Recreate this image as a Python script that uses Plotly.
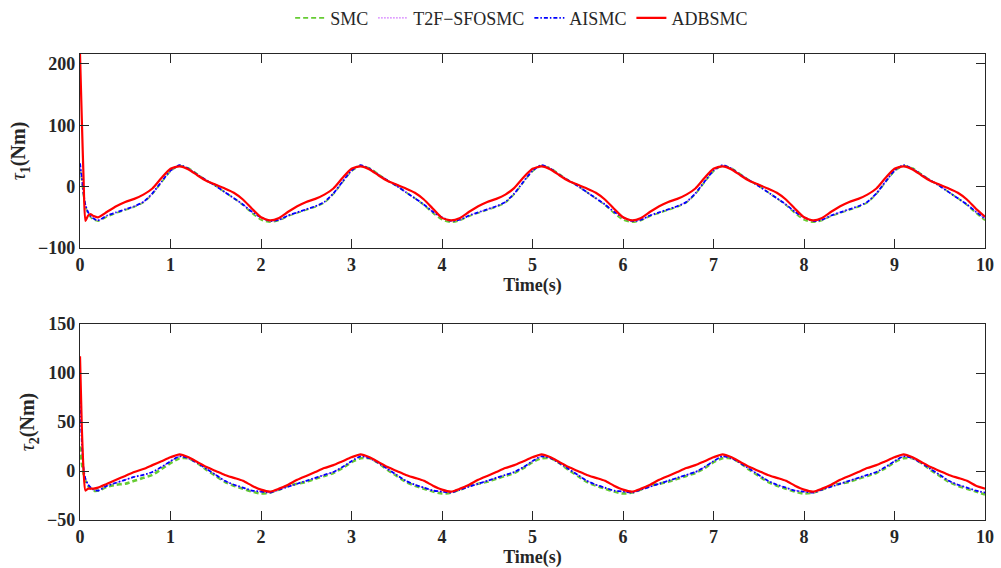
import plotly.graph_objects as go
from plotly.subplots import make_subplots

# time grid (s): dense start, then 0.1 s steps
time = [0, 0.02, 0.04, 0.06, 0.09, 0.12, 0.15] + [round(0.2 + 0.1 * i, 2) for i in range(99)]

# ---- tau1 (Nm) ----
tau1_smc = [30, 10, -15, -32, -44, -50, -54,
            -56, -49, -43, -38, -33, -26, -12, 7, 25, 34, 30, 20, 10, 1, -9, -19, -30, -43,
            -54, -58, -55, -48, -43, -38, -33, -26, -12, 7, 25, 34, 30, 20, 10, 1, -9, -19, -30, -43,
            -54, -58, -55, -48, -43, -38, -33, -26, -12, 7, 25, 34, 30, 20, 10, 1, -9, -19, -30, -43,
            -54, -58, -55, -48, -43, -38, -33, -26, -12, 7, 25, 34, 30, 20, 10, 1, -9, -19, -30, -43,
            -54, -58, -55, -48, -43, -38, -33, -26, -12, 7, 25, 34, 30, 20, 10, 1, -9, -19, -30, -43,
            -55]
tau1_t2f = [36, 14, -12, -30, -42, -48, -52,
            -55, -47, -42, -37, -32, -25, -11, 8, 26, 34, 29, 19, 10, 1, -9, -19, -29, -41,
            -51, -56, -54, -47, -42, -37, -32, -25, -11, 8, 26, 34, 29, 19, 10, 1, -9, -19, -29, -41,
            -51, -56, -54, -47, -42, -37, -32, -25, -11, 8, 26, 34, 29, 19, 10, 1, -9, -19, -29, -41,
            -51, -56, -54, -47, -42, -37, -32, -25, -11, 8, 26, 34, 29, 19, 10, 1, -9, -19, -29, -41,
            -51, -56, -54, -47, -42, -37, -32, -25, -11, 8, 26, 34, 29, 19, 10, 1, -9, -19, -29, -41,
            -52]
tau1_aismc = [38, 15, -12, -30, -42, -48, -52,
              -55, -47, -42, -37, -32, -25, -11, 8, 26, 35, 29, 19, 10, 1, -9, -19, -29, -41,
              -50, -56, -54, -47, -42, -37, -32, -25, -11, 8, 26, 35, 29, 19, 10, 1, -9, -19, -29, -41,
              -50, -56, -54, -47, -42, -37, -32, -25, -11, 8, 26, 35, 29, 19, 10, 1, -9, -19, -29, -41,
              -50, -56, -54, -47, -42, -37, -32, -25, -11, 8, 26, 35, 29, 19, 10, 1, -9, -19, -29, -41,
              -50, -56, -54, -47, -42, -37, -32, -25, -11, 8, 26, 35, 29, 19, 10, 1, -9, -19, -29, -41,
              -52]
tau1_adbsmc = [216, 110, 10, -56, -47, -45, -48,
               -50, -41, -32, -25, -20, -13, -3, 14, 29, 33, 28, 18, 9, 3, -3, -10, -21, -36,
               -50, -55, -51, -41, -32, -25, -20, -13, -3, 14, 29, 33, 28, 18, 9, 3, -3, -10, -21, -36,
               -51, -55, -51, -41, -32, -25, -20, -13, -2, 15, 29, 33, 28, 18, 9, 3, -3, -10, -21, -36,
               -50, -55, -51, -41, -32, -25, -20, -13, -3, 14, 29, 33, 28, 18, 9, 3, -3, -10, -21, -36,
               -50, -55, -51, -41, -32, -25, -20, -13, -3, 14, 29, 33, 28, 18, 9, 3, -3, -10, -21, -36,
               -49]

# ---- tau2 (Nm) ----
tau2_smc = [25, 8, -3, -10, -15, -18, -20,
            -20, -16, -14, -13, -10, -7, -4, 2, 8, 13, 13, 8, 1, -5, -11, -15, -18, -21,
            -23, -22, -19, -15, -13, -11, -8, -5, -2, 3, 9, 13, 13, 8, 1, -5, -11, -15, -18, -21,
            -23, -22, -19, -15, -13, -11, -8, -5, -2, 3, 9, 13, 13, 8, 1, -5, -11, -15, -18, -21,
            -23, -22, -19, -15, -13, -11, -8, -5, -2, 3, 9, 13, 13, 8, 1, -5, -11, -15, -18, -21,
            -23, -22, -19, -15, -13, -11, -8, -5, -2, 3, 9, 13, 13, 8, 1, -5, -11, -15, -18, -21,
            -24]
tau2_t2f = [80, 30, 2, -8, -14, -17, -19,
            -20, -15, -12, -9, -6, -4, -1, 4, 10, 15, 13, 8, 2, -4, -10, -14, -17, -20,
            -21, -22, -19, -16, -13, -10, -7, -4, -1, 4, 10, 15, 13, 8, 2, -4, -10, -14, -17, -20,
            -21, -22, -19, -16, -13, -10, -7, -4, -1, 4, 10, 15, 13, 8, 2, -4, -10, -14, -17, -20,
            -21, -22, -19, -16, -13, -10, -7, -4, -1, 4, 10, 15, 13, 8, 2, -4, -10, -14, -17, -20,
            -21, -22, -19, -16, -13, -10, -7, -4, -1, 4, 10, 15, 13, 8, 2, -4, -10, -14, -17, -20,
            -22]
tau2_aismc = [82, 30, 2, -8, -14, -17, -19,
              -20, -15, -12, -9, -6, -4, -1, 4, 10, 15, 13, 8, 2, -4, -10, -14, -17, -20,
              -21, -22, -19, -16, -13, -10, -7, -4, -1, 4, 10, 15, 13, 8, 2, -4, -10, -14, -17, -20,
              -21, -22, -19, -16, -13, -10, -7, -4, -1, 4, 10, 15, 13, 8, 2, -4, -10, -14, -17, -20,
              -21, -22, -19, -16, -13, -10, -7, -4, -1, 4, 10, 15, 13, 8, 2, -4, -10, -14, -17, -20,
              -21, -22, -19, -16, -13, -10, -7, -4, -1, 4, 10, 15, 13, 8, 2, -4, -10, -14, -17, -20,
              -22]
tau2_adbsmc = [117, 45, 0, -20, -18, -18, -18,
               -17, -13, -9, -5, -1, 2, 6, 10, 14, 17, 14, 9, 4, 0, -4, -7, -10, -15,
               -19, -21, -18, -14, -9, -5, -1, 3, 6, 10, 14, 17, 14, 9, 4, 0, -4, -7, -10, -15,
               -19, -21, -18, -14, -9, -5, -1, 3, 6, 10, 14, 17, 14, 9, 4, 0, -4, -7, -10, -15,
               -19, -21, -18, -14, -9, -5, -1, 3, 6, 10, 14, 17, 14, 9, 4, 0, -4, -7, -10, -15,
               -19, -21, -18, -14, -9, -5, -1, 3, 6, 10, 14, 17, 14, 9, 4, 0, -4, -7, -10, -15,
               -18]

names = ["SMC", "T2F\u2212SFOSMC", "AISMC", "ADBSMC"]
colors = ["#66cc33", "#cc66ff", "#0000ff", "#ff0000"]
dashes = ["5px,3px", "1.5px,1.5px", "4px,2px,1.5px,2px", "solid"]
widths = [[1.8, 1.2, 1.8, 2.2], [2.6, 1.2, 1.8, 2.2]]
x_title = "Time(s)"

FONT = "Times New Roman, Liberation Serif, serif"
INK = "#262626"

fig = make_subplots(rows=2, cols=1, vertical_spacing=0.0)

series = [
    [tau1_smc, tau1_t2f, tau1_aismc, tau1_adbsmc],
    [tau2_smc, tau2_t2f, tau2_aismc, tau2_adbsmc],
]
for r, group in enumerate(series, start=1):
    for k, ys in enumerate(group):
        fig.add_trace(go.Scatter(
            x=time, y=ys, mode="lines", name=names[k],
            line=dict(color=colors[k], dash=dashes[k], width=widths[r - 1][k],
                      shape="spline", smoothing=0.6),
            showlegend=(r == 1),
        ), row=r, col=1)

axis_common = dict(
    showline=True, linecolor=INK, linewidth=1.3, mirror="ticks",
    ticks="inside", ticklen=9, tickwidth=1.3, tickcolor=INK,
    showgrid=False, zeroline=False, automargin=False,
    tickfont=dict(family=FONT, size=18, color=INK, weight="bold"),
)

fig.update_xaxes(**axis_common, range=[0, 10], dtick=1)
fig.update_xaxes(title=dict(text=x_title, standoff=1,
                            font=dict(family=FONT, size=18, color=INK, weight="bold")))
fig.update_yaxes(**axis_common)

fig.update_layout(
    width=1001, height=568,
    margin=dict(l=80, r=16, t=54, b=48, autoexpand=False),
    plot_bgcolor="white", paper_bgcolor="white",
    xaxis=dict(domain=[0, 1]),
    yaxis=dict(domain=[0.5837, 1], range=[-100, 216], tickvals=[-100, 0, 100, 200],
               title=dict(text="<i>τ</i><sub><b>1</b></sub><b>(Nm)</b>", standoff=6,
                          font=dict(family=FONT, size=20, color=INK))),
    yaxis2=dict(domain=[0, 0.4206], range=[-50, 150], tickvals=[-50, 0, 50, 100, 150],
                title=dict(text="<i>τ</i><sub><b>2</b></sub><b>(Nm)</b>", standoff=6,
                           font=dict(family=FONT, size=20, color=INK))),
    legend=dict(orientation="h", x=0.488, xanchor="center", y=1.077, yanchor="middle",
                font=dict(family=FONT, size=18, color=INK), bgcolor="rgba(0,0,0,0)",
                itemwidth=30, tracegroupgap=0),
)

fig.write_html("out.html")
